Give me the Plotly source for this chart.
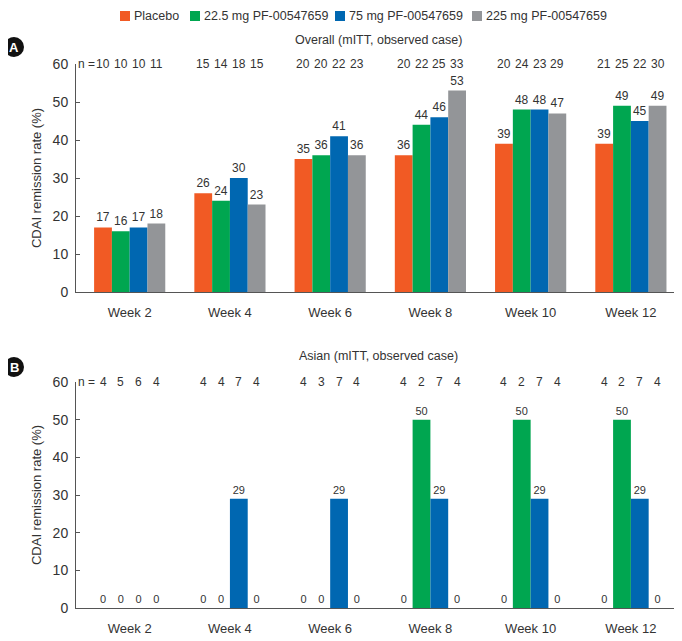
import plotly.graph_objects as go

weeks = ["Week 2", "Week 4", "Week 6", "Week 8", "Week 10", "Week 12"]
series_names = ["Placebo", "22.5 mg PF-00547659", "75 mg PF-00547659", "225 mg PF-00547659"]
colors = ["#F15A24", "#00A650", "#0067B1", "#939598"]

# Panel A: Overall (mITT, observed case)
overall_placebo = [17, 26, 35, 36, 39, 39]
overall_22_5 = [16, 24, 36, 44, 48, 49]
overall_75 = [17, 30, 41, 46, 48, 45]
overall_225 = [18, 23, 36, 53, 47, 49]
overall_n_placebo = [10, 15, 20, 20, 20, 21]
overall_n_22_5 = [10, 14, 20, 22, 24, 25]
overall_n_75 = [10, 18, 22, 25, 23, 22]
overall_n_225 = [11, 15, 23, 33, 29, 30]

# Panel B: Asian (mITT, observed case)
asian_placebo = [0, 0, 0, 0, 0, 0]
asian_22_5 = [0, 0, 0, 50, 50, 50]
asian_75 = [0, 29, 29, 29, 29, 29]
asian_225 = [0, 0, 0, 0, 0, 0]
asian_n_placebo = [4, 4, 4, 4, 4, 4]
asian_n_22_5 = [5, 4, 3, 2, 2, 2]
asian_n_75 = [6, 7, 7, 7, 7, 7]
asian_n_225 = [4, 4, 4, 4, 4, 4]

y_ticks = [0, 10, 20, 30, 40, 50, 60]

overall = [overall_placebo, overall_22_5, overall_75, overall_225]
overall_n = [overall_n_placebo, overall_n_22_5, overall_n_75, overall_n_225]
asian = [asian_placebo, asian_22_5, asian_75, asian_225]
asian_n = [asian_n_placebo, asian_n_22_5, asian_n_75, asian_n_225]

FONT = "Liberation Sans, Arial, sans-serif"
TXT = "#333333"
BARGAP = 0.29

# page has an 8px body margin; figure coordinates = page coordinates - 8
OFF = 8
W, H = 682 - OFF, 641 - OFF
# plot area in page pixels: x 76..681, y 64..608
L, R, T, B = 76 - OFF, 681 - OFF, 64 - OFF, 608 - OFF


def px(x):
    return (x - OFF - L) / (R - L)


def py(y):
    return (B - (y - OFF)) / (B - T)


fig = go.Figure()

for i, name in enumerate(series_names):
    f = dict(size=12, color=TXT, family=FONT)
    fig.add_trace(go.Bar(
        x=weeks, y=overall[i], name=name, marker_color=colors[i], marker_line_width=0,
        text=[str(v) for v in overall[i]], textposition="outside",
        textfont=f, outsidetextfont=f, insidetextfont=f, cliponaxis=False,
        xaxis="x", yaxis="y", showlegend=False,
    ))
for i, name in enumerate(series_names):
    f = dict(size=11, color=TXT, family=FONT)
    fig.add_trace(go.Bar(
        x=weeks, y=asian[i], name=name, marker_color=colors[i], marker_line_width=0,
        text=[str(v) for v in asian[i]], textposition="outside",
        textfont=f, outsidetextfont=f, insidetextfont=f, cliponaxis=False,
        xaxis="x2", yaxis="y2", showlegend=False,
    ))

# n labels above each bar
group_w = 1 - BARGAP
bar_w = group_w / 4
annotations = []
shapes = []
for panel_n, yref, xref in [(overall_n, "y", "x"), (asian_n, "y2", "x2")]:
    for i in range(4):
        off = -group_w / 2 + bar_w * (i + 0.5)
        for j in range(len(weeks)):
            annotations.append(dict(
                x=j + off, y=60, xref=xref, yref=yref, text=str(panel_n[i][j]),
                showarrow=False, yanchor="middle", xanchor="center",
                font=dict(size=12, color=TXT, family=FONT),
            ))
    annotations.append(dict(
        x=-group_w / 2 + bar_w * 0.5, y=60, xref=xref, yref=yref, text="n =",
        showarrow=False, yanchor="middle", xanchor="right", xshift=-6,
        font=dict(size=12, color=TXT, family=FONT),
    ))

annotations.append(dict(x=0.5, y=py(40), xref="paper", yref="paper",
                        text="Overall (mITT, observed case)", showarrow=False,
                        yanchor="middle",
                        font=dict(size=12.5, color=TXT, family=FONT)))
annotations.append(dict(x=0.5, y=py(356), xref="paper", yref="paper",
                        text="Asian (mITT, observed case)", showarrow=False,
                        yanchor="middle",
                        font=dict(size=12.5, color=TXT, family=FONT)))

# manual legend (squares + labels)
legend_sq_x = [120, 190, 335, 472]
LEG_Y = 16
for i, name in enumerate(series_names):
    x0 = legend_sq_x[i]
    shapes.append(dict(type="rect", xref="paper", yref="paper",
                       x0=px(x0), x1=px(x0 + 10), y0=py(LEG_Y + 5), y1=py(LEG_Y - 5),
                       fillcolor=colors[i], line=dict(width=0)))
    annotations.append(dict(x=px(x0 + 12), y=py(LEG_Y), xref="paper", yref="paper",
                            text=name, showarrow=False, xanchor="left", yanchor="middle",
                            font=dict(size=12.5, color=TXT, family=FONT)))

# panel letters
for label, yy in [("A", 47), ("B", 367)]:
    shapes.append(dict(type="circle", xref="paper", yref="paper",
                       xsizemode="pixel", ysizemode="pixel",
                       xanchor=px(14), yanchor=py(yy),
                       x0=-10, x1=10, y0=-10, y1=10,
                       fillcolor="#111111", line=dict(width=0)))
    annotations.append(dict(x=px(14), y=py(yy), xref="paper", yref="paper",
                            text="<b>%s</b>" % label, showarrow=False,
                            xanchor="center", yanchor="middle",
                            font=dict(size=13, color="white", family=FONT)))

axis_common = dict(showgrid=False, zeroline=False, showline=True, linecolor="#555555", linewidth=1)
yaxis_common = dict(axis_common, range=[0, 60], tickvals=y_ticks, ticks="inside", ticklen=4,
                    tickcolor="#555555", tickfont=dict(size=14, color=TXT, family=FONT),
                    ticklabelstandoff=4,
                    title=dict(text="CDAI remission rate (%)", font=dict(size=13, color=TXT, family=FONT), standoff=8))
xaxis_common = dict(axis_common, type="category", ticks="", tickfont=dict(size=13, color=TXT, family=FONT),
                    ticklabelstandoff=8)

fig.update_layout(
    width=W, height=H,
    margin=dict(l=L, r=W - R, t=T, b=H - B, autoexpand=False),
    paper_bgcolor="white", plot_bgcolor="white",
    barmode="group", bargap=BARGAP, bargroupgap=0,
    xaxis=dict(xaxis_common, domain=[0, 1], anchor="y"),
    yaxis=dict(yaxis_common, domain=[py(292), 1], anchor="x"),
    xaxis2=dict(xaxis_common, domain=[0, 1], anchor="y2"),
    yaxis2=dict(yaxis_common, domain=[0, py(382)], anchor="x2"),
    showlegend=False,
    annotations=annotations, shapes=shapes,
    font=dict(family=FONT, color=TXT),
)

fig.write_html("out.html")
